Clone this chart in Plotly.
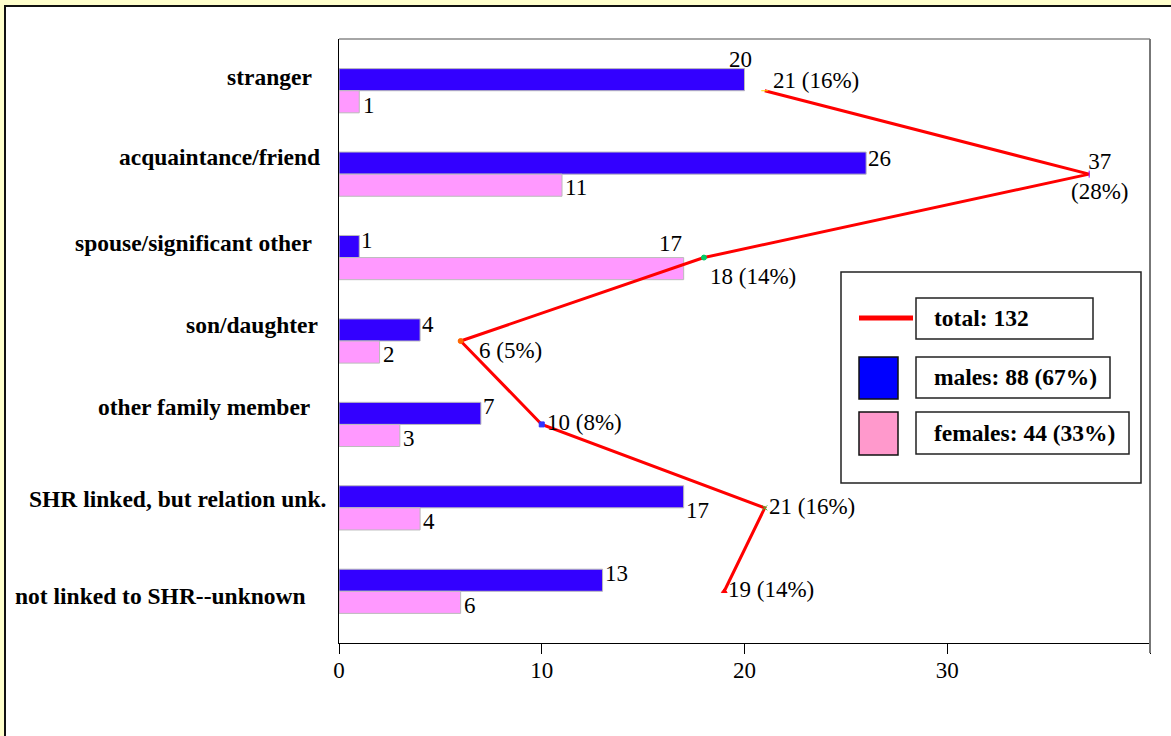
import plotly.graph_objects as go

# Relationship of victim to offender, by sex
categories = [
    "stranger",
    "acquaintance/friend",
    "spouse/significant other",
    "son/daughter",
    "other family member",
    "SHR linked, but relation unk.",
    "not linked to SHR--unknown",
]
males = [20, 26, 1, 4, 7, 17, 13]
females = [1, 11, 17, 2, 3, 4, 6]
x_ticks = [0, 10, 20, 30, 40]
x_tick_labels = ["0", "10", "20", "30", ""]

totals = [m + f for m, f in zip(males, females)]
grand_total = sum(totals)
male_total = sum(males)
female_total = sum(females)

FONT = "Liberation Serif, Times New Roman, serif"
MALE_COLOR = "#3300FF"
FEMALE_COLOR = "#FF99FF"

# plot area in pixels
L, R, T, B = 339, 1150, 39, 643
W, H = 1171, 736


def px(xp):
    return (xp - L) / (R - L)


def py(yp):
    return (B - yp) / (B - T)


ypos = list(range(len(categories)))

fig = go.Figure()
fig.add_trace(go.Bar(
    y=ypos, x=males, orientation="h", name="males",
    marker=dict(color=MALE_COLOR, line=dict(color="#BBBBBB", width=1)),
))
fig.add_trace(go.Bar(
    y=ypos, x=females, orientation="h", name="females",
    marker=dict(color=FEMALE_COLOR, line=dict(color="#BBBBBB", width=1)),
))
point_colors = ["#FFD700", "#9900FF", "#00CC66", "#FF6600", "#3333FF", "#33CC33", "#FF0000"]
fig.add_trace(go.Scatter(
    y=ypos, x=totals, mode="lines+markers", name="total",
    line=dict(color="#FF0000", width=3),
    marker=dict(
        size=5,
        color=point_colors,
        symbol=["line-ew", "line-ns", "circle", "circle", "square", "x-thin", "triangle-up"],
        line=dict(width=1, color=point_colors),
    ),
))

annotations = []
num_font = dict(family=FONT, size=23, color="black")
bold_font = dict(family=FONT, size=23.5, color="black")

# category labels (pixel nudges relative to the axis)
cat_nudge = [(-25, 14), (-17, 17), (-25, 15), (-19, 16), (-27, 17), (-11, 9), (-31, -5)]
for i, (cat, (dx, dy)) in enumerate(zip(categories, cat_nudge)):
    annotations.append(dict(
        x=0, y=i, xref="x", yref="y", text="<b>%s</b>" % cat, showarrow=False,
        xanchor="right", yanchor="middle", xshift=dx, yshift=dy, font=bold_font,
    ))

# male bar labels: (xanchor, dx, dy)
male_lab = [("center", -4, 20), ("left", 0, 5), ("left", 0, 6), ("left", 0, 6),
            ("left", 0, 7), ("left", 0, -13), ("left", 0, 7)]
for i, (v, (anc, dx, dy)) in enumerate(zip(males, male_lab)):
    annotations.append(dict(
        x=v, y=i - 0.13, xref="x", yref="y", text=str(v), showarrow=False,
        xanchor=anc, yanchor="middle", xshift=dx, yshift=dy, font=num_font,
    ))

# female bar labels
female_lab = [("left", 2, -4), ("left", 1, -3), ("right", 0, 25), ("left", 1, -3),
              ("left", 1, -3), ("left", 1, -3), ("left", 1, -3)]
for i, (v, (anc, dx, dy)) in enumerate(zip(females, female_lab)):
    annotations.append(dict(
        x=v, y=i + 0.13, xref="x", yref="y", text=str(v), showarrow=False,
        xanchor=anc, yanchor="middle", xshift=dx, yshift=dy, font=num_font,
    ))

# total labels with share of grand total
total_lab = [("left", 6, 10), ("center", 10, -2), ("left", 4, -19), ("left", 16, -9),
             ("left", 3, 2), ("left", 2, 1), ("left", 2, 2)]
for i, (v, (anc, dx, dy)) in enumerate(zip(totals, total_lab)):
    pct = round(100 * v / grand_total)
    sep = "<br>" if anc == "center" else " "
    annotations.append(dict(
        x=v, y=i, xref="x", yref="y", text="%d%s(%d%%)" % (v, sep, pct), showarrow=False,
        xanchor=anc, yanchor="middle", xshift=dx, yshift=dy, font=num_font,
    ))

shapes = []
# outer white panel with dark border
shapes.append(dict(type="rect", xref="paper", yref="paper",
                   x0=px(5), x1=px(W + 20), y0=py(6), y1=py(H + 20),
                   fillcolor="white", line=dict(color="#111111", width=2), layer="below"))
# top and right frame of the plot area
shapes.append(dict(type="line", xref="paper", yref="paper", x0=0, x1=1, y0=1, y1=1,
                   line=dict(color="#888888", width=1.5)))
shapes.append(dict(type="line", xref="paper", yref="paper", x0=1, x1=1, y0=1, y1=py(B + 10),
                   line=dict(color="#777777", width=2)))


# legend box
def rect(x0, y0, x1, y1, fill="white", lc="#222222", lw=1.5):
    shapes.append(dict(type="rect", xref="paper", yref="paper",
                       x0=px(x0), x1=px(x1), y0=py(y1), y1=py(y0),
                       fillcolor=fill, line=dict(color=lc, width=lw)))


rect(841, 272, 1141, 483)
shapes.append(dict(type="line", xref="paper", yref="paper",
                   x0=px(859), x1=px(913), y0=py(318), y1=py(318),
                   line=dict(color="#FF0000", width=5)))
rect(916, 298, 1093, 339)
rect(859, 357, 898, 399, fill="#0000FF", lc="#111111")
rect(916, 357, 1110, 398)
rect(859, 412, 898, 455, fill="#FF99CC", lc="#111111")
rect(916, 412, 1129, 454)

legend_texts = [
    ("total: %d" % grand_total, 318),
    ("males: %d (%d%%)" % (male_total, round(100 * male_total / grand_total)), 377),
    ("females: %d (%d%%)" % (female_total, round(100 * female_total / grand_total)), 433),
]
for txt, yc in legend_texts:
    annotations.append(dict(
        x=px(932), y=py(yc), xref="paper", yref="paper", text="<b>%s</b>" % txt,
        showarrow=False, xanchor="left", yanchor="middle", font=bold_font,
    ))

fig.update_layout(
    width=W, height=H,
    margin=dict(l=L, r=W - R, t=T, b=H - B, pad=0),
    paper_bgcolor="#FFFFCC",
    plot_bgcolor="white",
    showlegend=False,
    barmode="group",
    bargap=0.47,
    bargroupgap=0,
    annotations=annotations,
    shapes=shapes,
    xaxis=dict(
        range=[0, 40], tickvals=x_ticks, ticktext=x_tick_labels,
        ticks="outside", ticklen=10, tickcolor="black", tickwidth=1,
        showline=True, linecolor="black", linewidth=1,
        showgrid=False, zeroline=False,
        ticklabelstandoff=-4,
        tickfont=dict(family=FONT, size=23, color="black"),
    ),
    yaxis=dict(
        range=[6.62, -0.62], showticklabels=False, ticks="",
        showline=True, linecolor="black", linewidth=1,
        showgrid=False, zeroline=False,
    ),
)

fig.write_html("out.html")
